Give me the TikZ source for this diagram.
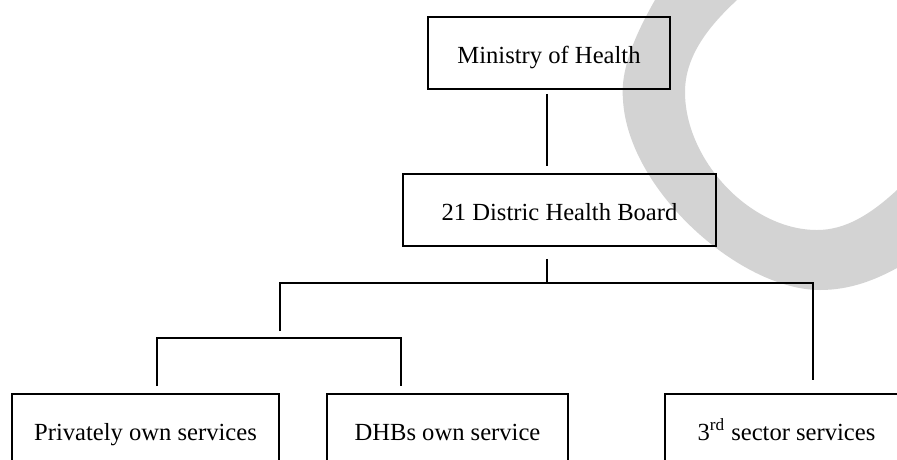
\documentclass[tikz,border=0pt]{standalone}
\usepackage{fontspec}
\setmainfont{Liberation Serif}
\usetikzlibrary{positioning,calc}
\definecolor{blobgray}{RGB}{211,211,211}
\tikzset{
  orgbox/.style={draw, line width=0.9pt, minimum height=14.4mm, inner sep=0pt,
    text height=14pt, text depth=2.6pt, font=\fontsize{14pt}{17pt}\selectfont},
  link/.style={line width=0.9pt},
}

\begin{document}
\begin{tikzpicture}[x=0.2mm, y=-0.2mm]
  \useasboundingbox (0,0) rectangle (897,459);
  \clip (0,0) rectangle (897,459);
  % grey band in the top right corner
  \fill[blobgray] (655,0) .. controls (635,35) and (620,70) .. (623,100)
    .. controls (628,190) and (740,290) .. (820,290)
    .. controls (850,290) and (875,280) .. (897,268) -- (897,190)
    .. controls (870,215) and (845,230) .. (817,230)
    .. controls (750,230) and (685,160) .. (685,92)
    .. controls (685,55) and (710,25) .. (737,0) -- cycle;
  \node[orgbox, minimum width=48.4mm] (moh) at (549,53) {Ministry of Health};
  \node[orgbox, minimum width=62.6mm] (dhb) at (559.5,210) {21 Distric Health Board};
  \node[orgbox, minimum width=53.4mm] (priv) at (145.5,430) {Privately own services};
  \node[orgbox, minimum width=48.2mm] (own) at (447.5,430) {DHBs own service};
  \node[orgbox, minimum width=48.6mm] (third) at (786.5,430) {3\textsuperscript{rd} sector services};
  % branch points
  \coordinate (split) at (547,283);
  \coordinate (subsplit) at (280,283);
  \coordinate (thirdtop) at (813,283);
  \coordinate (privtop) at (157,338);
  \coordinate (owntop) at (401,338);
  \draw[link, shorten <=0.8mm, shorten >=1.4mm] (moh.south -| split) -- (dhb.north -| split);
  \draw[link, shorten <=2.4mm] (dhb.south -| split) -- (split);
  \draw[link, shorten <=1.4mm, shorten >=2.6mm] (subsplit |- privtop) -- (subsplit) -- (thirdtop) -- (thirdtop |- third.north);
  \draw[link, shorten <=1.4mm, shorten >=1.4mm] (privtop |- priv.north) -- (privtop) -- (owntop) -- (owntop |- own.north);
\end{tikzpicture}
\end{document}
